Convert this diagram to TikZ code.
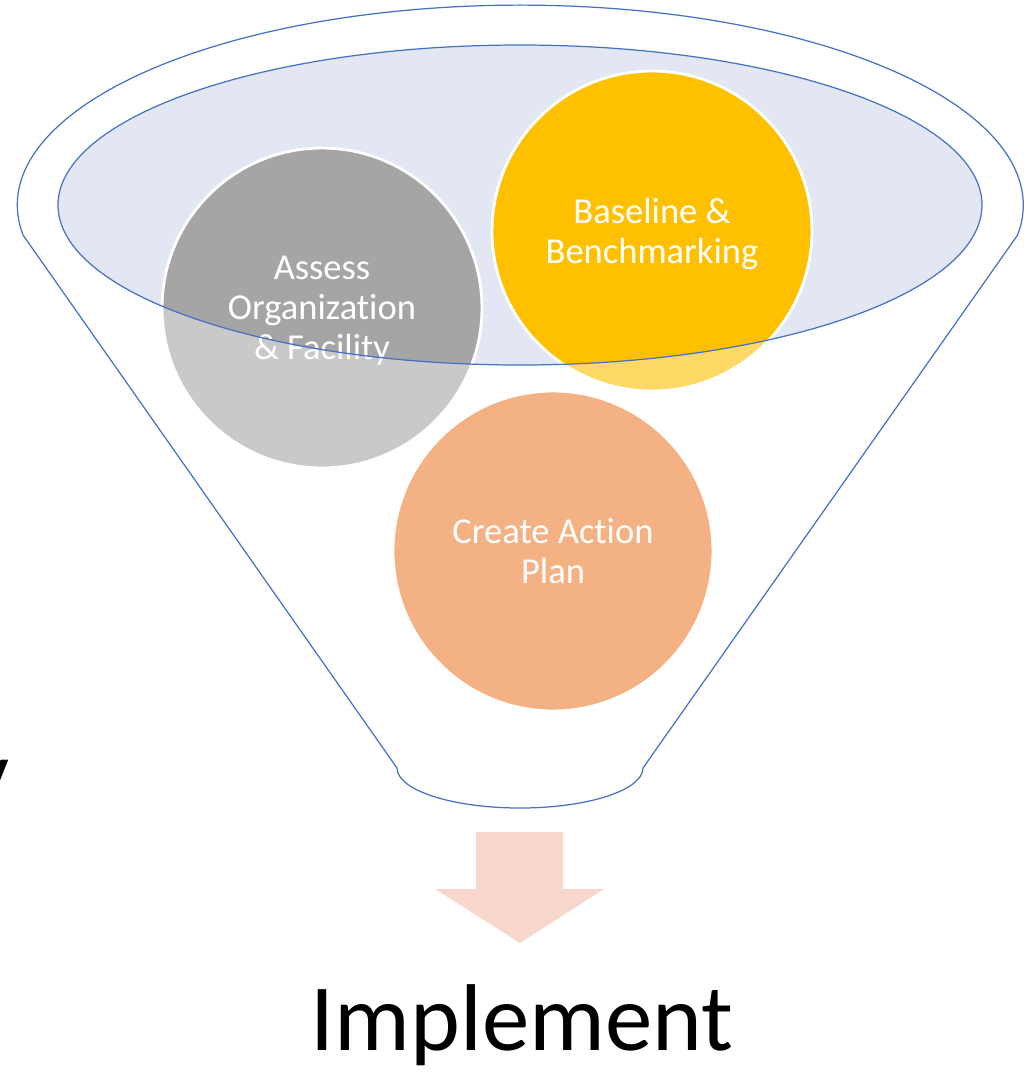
\documentclass[tikz,border=0pt]{standalone}
\usepackage{fontspec}
\setmainfont{Carlito}[RawFeature={-liga;-clig;-calt;-dlig}]
\definecolor{rimblue}{HTML}{4472C4}
\definecolor{bowlfill}{HTML}{E2E7F3}
\definecolor{greydark}{HTML}{A5A5A5}
\definecolor{greylight}{HTML}{C9C9C9}
\definecolor{yellowdark}{HTML}{FFC000}
\definecolor{yellowlight}{HTML}{FFD966}
\definecolor{peach}{HTML}{F4B183}
\definecolor{arrowfill}{HTML}{F8D8CD}
\tikzset{
  rim/.style={draw=rimblue, line width=0.7pt},
  stage/.style={circle, draw=white, line width=1.6pt, minimum size=6.4cm,
    text=white, align=center, text depth=0pt, font=\fontsize{20.8}{22.8}\selectfont,
    path picture={\fill[#1] (bowl) ellipse [x radius=462, y radius=160];}}
}
\begin{document}
\begin{tikzpicture}[x=0.02cm, y=-0.02cm]
   \useasboundingbox (0,0) rectangle (1024,1073);
   \coordinate (bowl) at (520,205);
   \coordinate (spout) at (520,768);
   \draw[rim] (23,235) arc[start angle=171.4, end angle=368.6, x radius=503, y radius=200]
      -- (643,768) arc[start angle=0, end angle=180, x radius=123, y radius=40] -- cycle;
   \fill[bowlfill] (bowl) ellipse [x radius=462, y radius=160];
   \node[stage=greydark, fill=greylight] (assess) at (322,308) {Assess\\Organization\\\& Facility};
   \node[stage=yellowdark, fill=yellowlight] (baseline) at (652,231) {Baseline \&\\Benchmarking};
   \node[stage=peach, fill=peach] (plan) at (553,551) {Create Act\kern0pt ion\\Plan};
   \draw[rim] (bowl) ellipse [x radius=462, y radius=160];
   \fill[arrowfill] (476,832) -- (563,832) -- (563,889) -- (604,889) -- (520,943)
      -- (435,889) -- (476,889) -- cycle;
   \node[anchor=base, inner sep=0pt, font=\fontsize{54}{60}\selectfont] (implement) at (522,1050) {Implement};
   \node[anchor=base east, inner sep=0pt, font=\fontsize{54}{60}\selectfont] (cut) at (10,805) {y};
\end{tikzpicture}
\end{document}
